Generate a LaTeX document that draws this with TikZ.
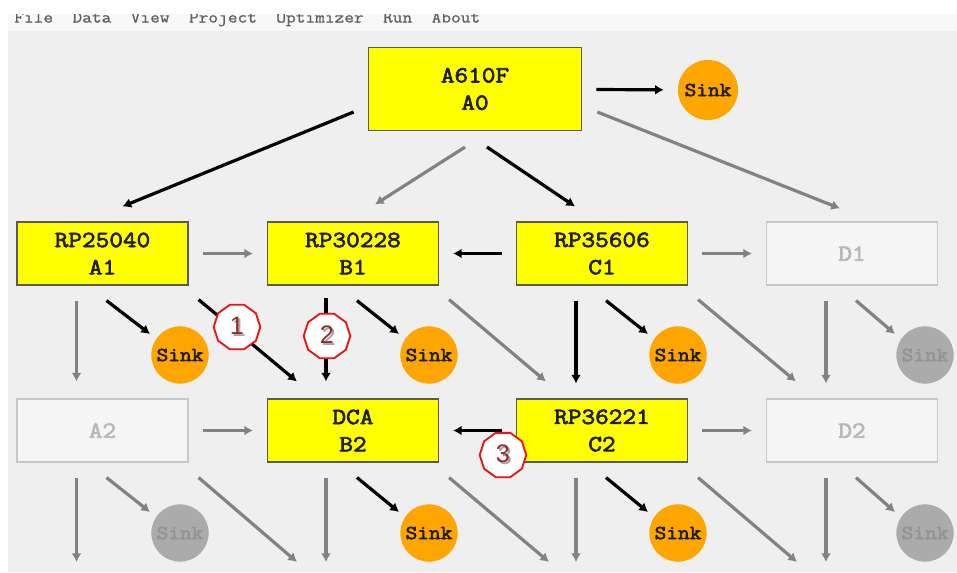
\documentclass[tikz,border=0pt]{standalone}
\usepackage{fontspec}
\setmainfont{Liberation Sans}
\newfontfamily\boxfont{Latin Modern Mono}[FakeStretch=1.15, FakeBold=3]
\newfontfamily\menufont{Latin Modern Mono}[FakeStretch=1.14, FakeBold=1]
\usepackage{tikz}
\usetikzlibrary{arrows.meta, shapes.geometric, positioning}
\definecolor{boxyellow}{RGB}{255, 255, 0}
\definecolor{sinkorange}{RGB}{255, 165, 0}
\definecolor{panelgray}{RGB}{239, 239, 239}
\definecolor{menugray}{RGB}{248, 248, 248}
\definecolor{flowgray}{RGB}{130, 130, 130}
\definecolor{badgered}{RGB}{235, 20, 20}
\definecolor{badgetext}{RGB}{155, 40, 45}

\newcommand{\shadednum}[1]{\makebox[0pt][l]{\hspace{1.5pt}\raisebox{-1.5pt}{\textcolor{black!35}{#1}}}#1}

\tikzset{
    box/.style={draw=black!65, fill=boxyellow, line width=1.1pt, minimum width=128pt,
                minimum height=47pt, inner sep=0pt, align=center, text=black!88,
                font=\boxfont\fontsize{17.3}{20.5}\selectfont},
    offbox/.style={box, draw=black!22, fill=black!4, text=black!28},
    sink/.style={circle, fill=sinkorange, minimum size=43pt, inner sep=0pt, text=black!88,
                 font=\boxfont\fontsize{14.8}{14.8}\selectfont},
    offsink/.style={sink, fill=black!33, text=black!42},
    badge/.style={regular polygon, regular polygon sides=10, draw=badgered, line width=1.4pt,
                  fill=white, minimum size=35pt, inner sep=0pt, text=badgetext,
                  font=\fontsize{19}{19}\selectfont},
    blk/.style={draw=black, line width=2.4pt, -{Latex[length=6.5pt, width=7.5pt]}},
    gry/.style={draw=flowgray, line width=2.4pt, -{Latex[length=6.5pt, width=7.5pt]}},
    gap/.style={shorten <=10.5pt, shorten >=10.5pt}
}

\begin{document}
\begin{tikzpicture}[x=0.75pt, y=-0.75pt]
    \useasboundingbox (0,0) rectangle (957,572);
    % window background
    \fill[white] (0,0) rectangle (957,572);
    \fill[menugray] (8,14) rectangle (957,31);
    \fill[panelgray] (8,31) rectangle (957,572);
    \begin{scope}
        \clip (8,14) rectangle (957,31);
        \node[anchor=base west, inner sep=0pt, text=black!62,
              font=\menufont\fontsize{12.4}{12.4}\selectfont] (menu) at (14,22.5)
            {File\ \ Data\ \ View\ \ Project\ \ Optimizer\ \ Run\ \ About};
    \end{scope}

    % top level
    \node[box, minimum width=160pt, minimum height=62pt] (A0) at (475,89) {A610F\\A0};
    \node[sink, minimum size=45pt] (sA0) at (708,90) {Sink};

    % first row
    \node[box] (A1) at (102.5,253.5) {RP25040\\A1};
    \node[box] (B1) at (353,253.5) {RP30228\\B1};
    \node[box] (C1) at (602,253.5) {RP35606\\C1};
    \node[offbox] (D1) at (852,253.5) {D1};
    \node[sink] (sA1) at (180,355) {Sink};
    \node[sink] (sB1) at (429,355) {Sink};
    \node[sink] (sC1) at (678,355) {Sink};
    \node[offsink] (sD1) at (925,355) {Sink};

    % second row
    \node[offbox] (A2) at (102.5,430.5) {A2};
    \node[box] (B2) at (353,430.5) {DCA\\B2};
    \node[box] (C2) at (602,430.5) {RP36221\\C2};
    \node[offbox] (D2) at (852,430.5) {D2};
    \node[offsink] (sA2) at (180,533) {Sink};
    \node[sink] (sB2) at (429,533) {Sink};
    \node[sink] (sC2) at (678,533) {Sink};
    \node[offsink] (sD2) at (925,533) {Sink};

    % loose ends below the window edge
    \coordinate (endA) at (76.5,562);
    \coordinate (endAB) at (297,562);
    \coordinate (endB) at (326,562);
    \coordinate (endBC) at (549,562);
    \coordinate (endC) at (576,562);
    \coordinate (endCD) at (797,562);
    \coordinate (endD) at (826,562);

    % flows from the top
    \draw[blk, gap] (A0) -- (sA0);
    \draw[blk] ([shift={(-14,23)}]A0.west) -- ([shift={(20,-15)}]A1.north);
    \draw[gry] ([shift={(-10,16)}]A0.south) -- ([shift={(22,-17)}]B1.north);
    \draw[blk] ([shift={(12,16)}]A0.south) -- ([shift={(-27,-15)}]C1.north);
    \draw[gry] ([shift={(15,23)}]A0.east) -- ([shift={(-12,-13)}]D1.north);

    % first row flows
    \draw[gry, gap] (A1) -- (B1);
    \draw[blk, gap] (C1) -- (B1);
    \draw[gry, gap] (C1) -- (D1);
    \draw[gry] ([shift={(-26,15)}]A1.south) -- ([shift={(-26,-17)}]A2.north);
    \draw[blk] ([shift={(4,15)}]A1.south) -- ([shift={(-30,-21)}]sA1.center);
    \draw[blk] ([shift={(10,14)}]A1.south east) -- ([shift={(30,-17)}]B2.north west);
    \draw[blk] ([shift={(-27,12)}]B1.south) -- ([shift={(-27,-17)}]B2.north);
    \draw[blk] ([shift={(4,15)}]B1.south) -- ([shift={(-30,-21)}]sB1.center);
    \draw[gry] ([shift={(10,14)}]B1.south east) -- ([shift={(30,-17)}]C2.north west);
    \draw[blk] ([shift={(-26,15)}]C1.south) -- ([shift={(-26,-15)}]C2.north);
    \draw[blk] ([shift={(4,15)}]C1.south) -- ([shift={(-30,-21)}]sC1.center);
    \draw[gry] ([shift={(10,14)}]C1.south east) -- ([shift={(30,-17)}]D2.north west);
    \draw[gry] ([shift={(-26,15)}]D1.south) -- ([shift={(-26,-15)}]D2.north);
    \draw[gry] ([shift={(4,15)}]D1.south) -- ([shift={(-30,-21)}]sD1.center);

    % second row flows
    \draw[gry, gap] (A2) -- (B2);
    \draw[blk, gap] (C2) -- (B2);
    \draw[gry, gap] (C2) -- (D2);
    \draw[gry] ([shift={(-26,15)}]A2.south) -- (endA);
    \draw[gry] ([shift={(4,15)}]A2.south) -- ([shift={(-30,-21)}]sA2.center);
    \draw[gry] ([shift={(10,15)}]A2.south east) -- (endAB);
    \draw[gry] ([shift={(-27,15)}]B2.south) -- (endB);
    \draw[blk] ([shift={(4,15)}]B2.south) -- ([shift={(-30,-21)}]sB2.center);
    \draw[gry] ([shift={(10,15)}]B2.south east) -- (endBC);
    \draw[gry] ([shift={(-26,15)}]C2.south) -- (endC);
    \draw[blk] ([shift={(4,15)}]C2.south) -- ([shift={(-30,-21)}]sC2.center);
    \draw[gry] ([shift={(10,15)}]C2.south east) -- (endCD);
    \draw[gry] ([shift={(-26,15)}]D2.south) -- (endD);
    \draw[gry] ([shift={(4,15)}]D2.south) -- ([shift={(-30,-21)}]sD2.center);

    % numbered marks
    \node[badge] (n1) at (237,327) {\shadednum{1}};
    \node[badge] (n2) at (327,336) {\shadednum{2}};
    \node[badge] (n3) at (503,455) {\shadednum{3}};
\end{tikzpicture}
\end{document}
